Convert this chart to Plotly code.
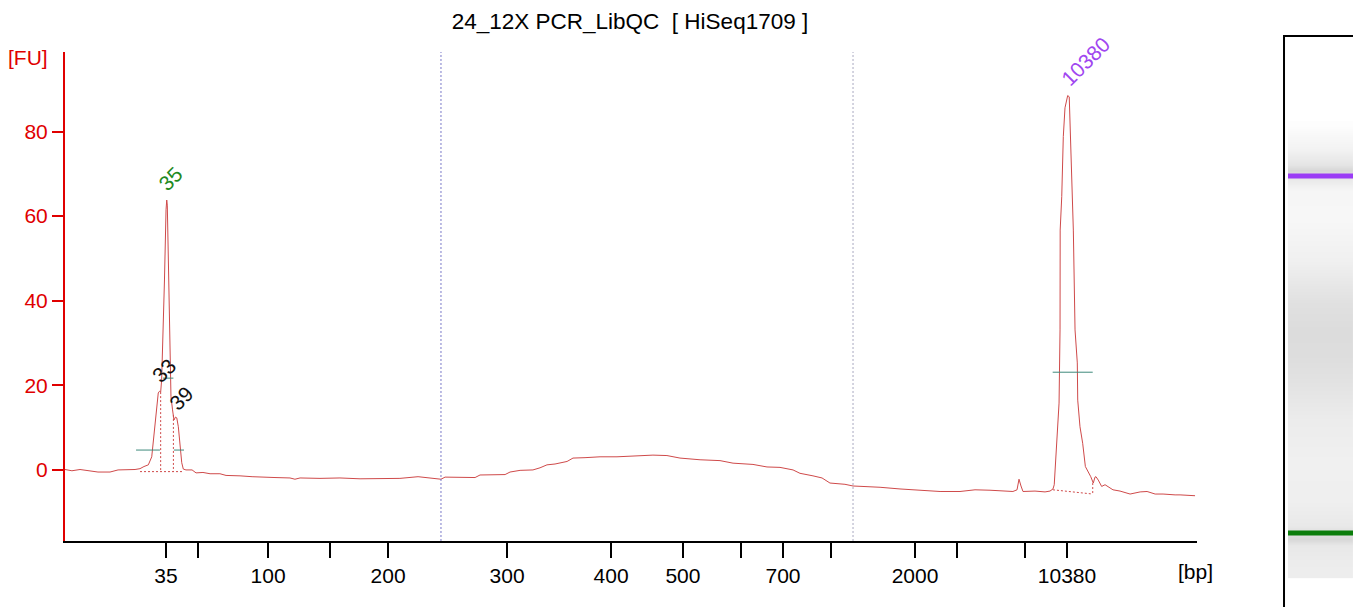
import plotly.graph_objects as go

# electropherogram, x in migration time [s], y in [FU]
trace_time = [40.00, 40.49, 41.06, 41.63, 42.33, 43.18, 43.75, 44.95, 45.30, 45.58,
              45.89, 46.13, 46.22, 46.31, 46.48, 46.59, 46.68, 46.76, 46.83, 46.93,
              47.03, 47.14, 47.19, 47.23, 47.30, 47.37, 47.44, 47.49, 47.60, 47.70,
              47.81, 47.90, 48.01, 48.13, 48.25, 48.36, 48.55, 48.98, 49.26, 49.75,
              50.25, 50.95, 51.38, 52.37, 53.22, 54.84, 55.90, 56.25, 56.61, 58.02,
              59.43, 60.85, 62.61, 63.67, 64.95, 66.01, 66.57, 66.86, 68.27, 68.98,
              69.33, 71.10, 71.45, 72.16, 73.07, 73.57, 74.06, 74.63, 75.48, 75.90,
              76.75, 77.81, 79.01, 80.28, 81.55, 82.54, 83.46, 84.88, 86.29, 87.21,
              88.62, 89.61, 90.53, 91.45, 91.94, 92.86, 93.50, 94.06, 95.12, 95.69,
              97.60, 99.01, 99.93, 101.84, 103.25, 104.31, 105.37, 106.99, 107.28, 107.42,
              107.56, 107.70, 108.55, 109.26, 109.61, 109.82, 109.91, 110.08, 110.25, 110.32,
              110.33, 110.44, 110.55, 110.67, 110.86, 110.97, 111.07, 111.19, 111.26, 111.38,
              111.54, 111.57, 111.73, 111.92, 112.11, 112.49, 112.67, 112.79, 112.86, 113.02,
              113.26, 113.50, 114.06, 114.56, 115.27, 115.98, 116.47, 117.04, 117.60, 118.45,
              118.80, 119.86]
trace_fu = [0.1, -0.2, 0.1, -0.1, -0.5, -0.5, 0.0, 0.1, 0.3, 0.8,
            1.2, 3.1, 5.9, 9.5, 15.0, 18.2, 18.6, 18.4, 21.3, 31.9,
            44.9, 61.5, 63.8, 62.6, 49.6, 35.5, 23.6, 17.3, 14.2, 11.8,
            12.5, 12.3, 10.2, 5.6, 1.7, 0.2, 0.0, 0.0, -0.7, -0.6,
            -0.9, -0.9, -1.3, -1.4, -1.6, -1.8, -1.9, -2.2, -1.9, -2.0,
            -1.9, -2.1, -2.0, -2.0, -1.6, -2.1, -2.2, -1.7, -1.7, -1.8,
            -1.2, -1.1, -0.5, -0.1, 0.0, 0.5, 1.2, 1.4, 2.0, 2.8,
            2.9, 3.1, 3.1, 3.3, 3.5, 3.4, 2.8, 2.4, 2.2, 1.6,
            1.3, 0.7, 0.6, 0.0, -0.8, -1.4, -1.9, -3.1, -3.4, -3.8,
            -4.1, -4.5, -4.7, -5.1, -5.1, -4.7, -4.8, -5.1, -4.7, -2.2,
            -3.8, -5.1, -5.0, -5.2, -5.0, -4.5, -3.5, 5.5, 15.8, 33.1,
            56.7, 64.6, 78.8, 85.6, 88.5, 88.2, 78.0, 64.6, 56.7, 33.1,
            25.3, 16.5, 10.2, 6.3, 0.8, -1.6, -3.1, -1.7, -1.6, -2.4,
            -3.9, -3.5, -4.7, -5.0, -5.7, -5.2, -5.1, -5.7, -5.7, -5.9,
            -5.9, -6.1]

# ladder ticks
tick_time = [47.14, 49.40, 54.35, 58.73, 62.83, 71.24, 78.59, 83.67, 87.77, 90.74,
             94.13, 100.07, 103.04, 107.84, 110.81]
tick_text = ["35", "", "100", "", "200", "300", "400", "500", "", "700",
             "", "2000", "", "", "10380"]

# region of interest bounds
region_time = [66.57, 95.69]
region_color = ["#7878c8", "#a8a8c0"]

# called peaks
peak_time = [47.19, 46.68, 47.85, 110.86]
peak_fu = [63.8, 18.6, 12.3, 88.5]
peak_label = ["35", "33", "39", "10380"]
peak_color = ["#1f8a1f", "#111111", "#111111", "#a046f0"]
peak_shift = [(-15, 2), (-15, 2), (-14, 0), (-14, 3)]

# peak integration helpers
lower_base_time = [45.30, 48.36]
lower_base_fu = [-0.4, -0.4]
lower_drop_time = [46.76, 47.66]
lower_drop_fu = [18.4, 13.0]
upper_base_time = [109.82, 112.63]
upper_base_fu = [-4.7, -5.7]
upper_drop_fu = [-3.1, -5.7]
fwhm_segments = [([45.02, 46.71], 4.7), ([47.70, 48.41], 4.7),
                 ([46.93, 47.66], 21.7), ([109.80, 112.63], 23.1)]

# gel lane
gel_time = [39.5, 40.3, 42.3, 45.0, 46.0, 48.6, 53.0, 60.0, 67.3, 74.4, 79.0,
            83.4, 88.0, 90.5, 95.8, 103.0, 108.3, 110.0, 111.9, 112.8, 115.5,
            118.5, 119.9]
gel_shade = [237, 237, 236, 232, 216, 233, 239, 240, 236, 226, 221,
             220, 224, 229, 240, 247, 246, 235, 215, 228, 242,
             249, 253]
marker_time = [47.14, 110.81]
marker_color = ["#0b7d0b", "#9b3cf5"]

FONT = "Liberation Sans"

fig = go.Figure()

fig.add_trace(go.Scatter(x=trace_time, y=trace_fu, mode="lines",
                         line=dict(color="#cf4a4a", width=1)))

fig.add_trace(go.Scatter(x=lower_base_time, y=lower_base_fu, mode="lines",
                         line=dict(color="#cf4a4a", width=1, dash="2px,2px")))
for t, f in zip(lower_drop_time, lower_drop_fu):
    fig.add_trace(go.Scatter(x=[t, t], y=[f, lower_base_fu[0]], mode="lines",
                             line=dict(color="#cf4a4a", width=1, dash="2px,2px")))
fig.add_trace(go.Scatter(x=upper_base_time, y=upper_base_fu, mode="lines",
                         line=dict(color="#cf4a4a", width=1, dash="2px,2px")))
fig.add_trace(go.Scatter(x=[upper_base_time[1]] * 2, y=upper_drop_fu, mode="lines",
                         line=dict(color="#cf4a4a", width=1, dash="2px,2px")))
for xs, f in fwhm_segments:
    fig.add_trace(go.Scatter(x=xs, y=[f, f], mode="lines",
                             line=dict(color="#3f8a7c", width=1)))

for t, c in zip(region_time, region_color):
    fig.add_vline(x=t, line=dict(color=c, width=1, dash="2px,2px"))

for t, f, s, c, (dx, dy) in zip(peak_time, peak_fu, peak_label, peak_color, peak_shift):
    fig.add_annotation(x=t, y=f, text=s, showarrow=False, textangle=-45,
                       xanchor="left", yanchor="bottom", xshift=dx, yshift=dy,
                       font=dict(family=FONT, size=21, color=c))

# gel image
fig.add_trace(go.Heatmap(x=[0.25, 0.75], y=gel_time,
                         z=[[v, v] for v in gel_shade],
                         zmin=210, zmax=255, zsmooth="best", showscale=False,
                         colorscale=[[0, "rgb(210,210,210)"], [1, "rgb(255,255,255)"]],
                         xaxis="x2", yaxis="y2", hoverinfo="skip"))
for t, c in zip(marker_time, marker_color):
    fig.add_trace(go.Scatter(x=[0, 1], y=[t, t], mode="lines",
                             line=dict(color=c, width=5),
                             xaxis="x2", yaxis="y2"))

fig.add_shape(type="rect", xref="paper", yref="paper",
              x0=0.9431, x1=0.9970, y0=-0.03, y1=1.0,
              line=dict(color="black", width=2))

fig.add_annotation(text="[FU]", xref="paper", yref="paper", x=0.0148, y=0.9632,
                   xanchor="center", yanchor="middle", showarrow=False,
                   font=dict(family=FONT, size=21, color="#e00000"))
fig.add_annotation(text="[bp]", xref="paper", yref="paper", x=0.8780, y=0.0613,
                   xanchor="center", yanchor="middle", showarrow=False,
                   font=dict(family=FONT, size=21, color="black"))

# page body adds an 8px margin, so the figure is 8px smaller than the window
fig.update_layout(
    width=1353, height=599,
    margin=dict(l=0, r=0, t=28, b=0),
    paper_bgcolor="white", plot_bgcolor="white",
    showlegend=False, hovermode=False,
    font=dict(family=FONT, size=21, color="black"),
    title=dict(text="24_12X PCR_LibQC \u00a0[ HiSeq1709 ]", x=0.4597, y=0.9783,
               xanchor="center", yanchor="middle", font=dict(size=22.5)),
    xaxis=dict(domain=[0.04213, 0.8788], range=[40, 120], anchor="y",
               showgrid=False, zeroline=False, showline=True,
               linecolor="black", linewidth=2,
               tickmode="array", tickvals=tick_time, ticktext=tick_text,
               ticks="outside", ticklen=15, tickwidth=2, tickcolor="black",
               tickfont=dict(size=21, color="black")),
    yaxis=dict(domain=[0.1156, 0.972], range=[-16.8, 98.8], anchor="x",
               showgrid=False, zeroline=False, showline=True,
               linecolor="#e00000", linewidth=2,
               tickvals=[0, 20, 40, 60, 80],
               ticks="outside", ticklen=11, tickwidth=2, tickcolor="#e00000",
               tickfont=dict(size=21, color="#e00000")),
    xaxis2=dict(domain=[0.9460, 0.9941], range=[0, 1], anchor="y2",
                visible=False, fixedrange=True),
    yaxis2=dict(domain=[0, 1], range=[33.94, 135.78], anchor="x2",
                visible=False, fixedrange=True),
)

fig.write_html("out.html")
